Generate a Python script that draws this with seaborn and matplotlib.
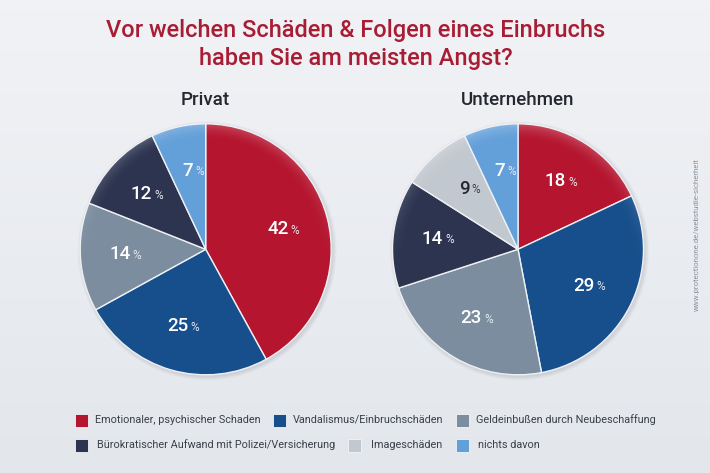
import numpy as np
import seaborn as sns
import matplotlib.pyplot as plt
from matplotlib.patches import Circle, Rectangle

# data
title_lines = ["Vor welchen Schäden & Folgen eines Einbruchs", "haben Sie am meisten Angst?"]
privat_values = [42, 25, 14, 12, 7]
privat_colors = ["#b5152f", "#174f8c", "#7b8d9f", "#2c3450", "#639fd9"]
firma_values = [18, 29, 23, 14, 9, 7]
firma_colors = ["#b5152f", "#174f8c", "#7b8d9f", "#2c3450", "#c2c8cf", "#639fd9"]
legend_labels = ["Emotionaler, psychischer Schaden", "Vandalismus/Einbruchschäden",
                 "Geldeinbußen durch Neubeschaffung",
                 "Bürokratischer Aufwand mit Polizei/Versicherung", "Imageschäden", "nichts davon"]
legend_colors = ["#b5152f", "#174f8c", "#7b8d9f", "#2c3450", "#c2c8cf", "#639fd9"]
legend_box_x = [74.5, 272.5, 456, 74.5, 348, 456]
legend_text_x = [95, 293, 476.5, 97, 371, 478.5]
legend_y = [420, 445.5]

W, H = 710, 473
sns.set_theme(style="white")
plt.rcParams["font.family"] = ["Roboto", "DejaVu Sans"]

fig = plt.figure(figsize=(W / 100, H / 100), dpi=100)

# background gradient
bg = fig.add_axes([0, 0, 1, 1])
bg.axis("off")
t = np.linspace(0, 1, 256)[:, None, None]
top, bottom = np.array([0.945, 0.95, 0.965]), np.array([0.89, 0.905, 0.925])
bg.imshow(top + (bottom - top) * t, aspect="auto", extent=[0, W, H, 0])
bg.set_xlim(0, W)
bg.set_ylim(H, 0)


def draw_pie(cx, cy, r, values, colors, name):
    pad = 1.12
    ax = fig.add_axes([(cx - r * pad) / W, 1 - (cy + r * pad) / H, 2 * r * pad / W, 2 * r * pad / H])
    ax.set_xlim(-pad, pad)
    ax.set_ylim(-pad, pad)
    ax.set_aspect("equal")
    ax.axis("off")

    # soft shadow, lower right
    for k in range(8):
        ax.add_patch(Circle((0.012, -0.012), 1.0 + 0.004 * (8 - k), color="#5a6472", alpha=0.02, lw=0, zorder=0))

    wedges, _ = ax.pie(values, colors=colors, startangle=90, counterclock=False, radius=1,
                       wedgeprops=dict(edgecolor="#eef0f4", linewidth=1.0))
    for w in wedges:
        w.set_zorder(1)

    # rim highlight, stronger at the top
    n = 300
    xx, yy = np.meshgrid(np.linspace(-1, 1, n), np.linspace(1, -1, n))
    rr = np.hypot(xx, yy)
    glow = np.clip((rr - 0.86) / 0.14, 0, 1) ** 2 * np.clip(yy + 0.1, 0, 1) * 0.22
    rgba = np.ones((n, n, 4))
    rgba[..., 3] = glow
    im = ax.imshow(rgba, extent=[-1, 1, -1, 1], zorder=2, aspect="equal")
    im.set_clip_path(Circle((0, 0), 1, transform=ax.transData))
    ax.set_xlim(-pad, pad)
    ax.set_ylim(-pad, pad)

    for w, v, col in zip(wedges, values, colors):
        mid = np.deg2rad((w.theta1 + w.theta2) / 2)
        x, y = 0.64 * np.cos(mid), 0.64 * np.sin(mid)
        # dark text on the light grey slice
        light = col == "#c2c8cf"
        ax.annotate(str(v), (x, y), xytext=(3.5, 0), textcoords="offset points", ha="right", va="center",
                    color="#24272e" if light else "white", fontsize=13.5, fontweight="medium", zorder=3)
        ax.annotate("%", (x, y), xytext=(5, -0.5), textcoords="offset points", ha="left", va="center",
                    color="#3a3f48" if light else "#e8ebf0", fontsize=8.5, zorder=3)
    fig.text(cx / W, 1 - (cy - r - 24) / H, name, ha="center", va="center", fontsize=13.5,
             color="#24272e", fontweight="medium")


draw_pie(205.7, 249.3, 125.5, privat_values, privat_colors, "Privat")
draw_pie(518, 249.3, 125.5, firma_values, firma_colors, "Unternehmen")

fig.text(355.5 / W, 1 - 30 / H, title_lines[0], ha="center", va="center", fontsize=17, color="#a81c34", fontweight="medium")
fig.text(355.5 / W, 1 - 58 / H, title_lines[1], ha="center", va="center", fontsize=17, color="#a81c34", fontweight="medium")

# legend
for i, (lab, col) in enumerate(zip(legend_labels, legend_colors)):
    y = legend_y[i // 3]
    bg.add_patch(Rectangle((legend_box_x[i], y - 6.5), 13, 13, facecolor=col, edgecolor="#f2f4f7", lw=0.6))
    bg.text(legend_text_x[i], y - 0.5, lab, ha="left", va="center", fontsize=7.8, color="#3a3f48")

fig.text(697 / W, 1 - 235 / H, "www.protectionone.de/webstudie-sicherheit", rotation=90, ha="center", va="center",
         fontsize=5.6, color="#8d939b")

fig.savefig("out.png", dpi=100, facecolor=fig.get_facecolor())
